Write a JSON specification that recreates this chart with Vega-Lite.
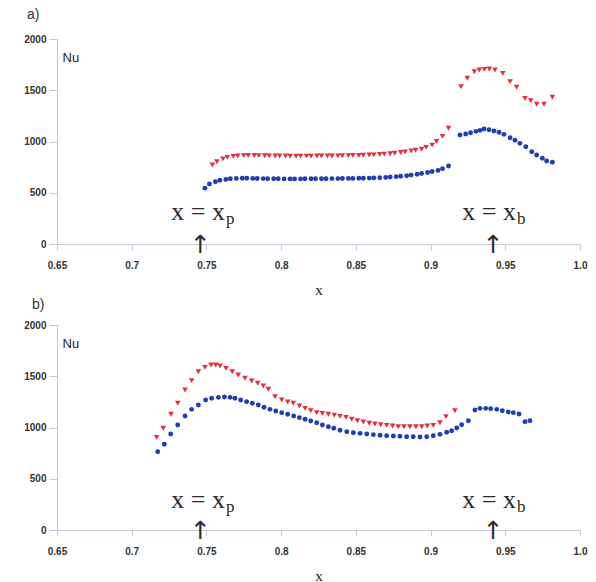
{
  "$schema": "https://vega.github.io/schema/vega-lite/v6.json",
  "background": "white",
  "padding": {"left": 23, "top": 8, "right": 6, "bottom": 2},
  "spacing": 1,
  "config": {
    "view": {"stroke": null},
    "axis": {
      "grid": false,
      "domainColor": "#c5c9de",
      "tickColor": "#c5c9de",
      "labelColor": "#333333",
      "labelFont": "Liberation Sans",
      "labelFontSize": 10,
      "labelFontWeight": "bold",
      "titleColor": "#222222"
    },
    "title": {"font": "Liberation Sans", "fontSize": 14, "fontWeight": "normal", "color": "#333333", "anchor": "start", "frame": "group"}
  },
  "datasets": {
    "pts": [
      {"p":"a","s":"b","x":0.749,"y":545},{"p":"a","s":"b","x":0.752,"y":585},{"p":"a","s":"b","x":0.756,"y":608},{"p":"a","s":"b","x":0.759,"y":622},{"p":"a","s":"b","x":0.763,"y":630},{"p":"a","s":"b","x":0.766,"y":636},{"p":"a","s":"b","x":0.770,"y":640},{"p":"a","s":"b","x":0.774,"y":641},{"p":"a","s":"b","x":0.777,"y":641},{"p":"a","s":"b","x":0.781,"y":640},{"p":"a","s":"b","x":0.784,"y":639},{"p":"a","s":"b","x":0.788,"y":638},{"p":"a","s":"b","x":0.791,"y":637},{"p":"a","s":"b","x":0.795,"y":636},{"p":"a","s":"b","x":0.798,"y":636},{"p":"a","s":"b","x":0.802,"y":635},{"p":"a","s":"b","x":0.806,"y":635},{"p":"a","s":"b","x":0.809,"y":635},{"p":"a","s":"b","x":0.813,"y":635},{"p":"a","s":"b","x":0.816,"y":636},{"p":"a","s":"b","x":0.820,"y":636},{"p":"a","s":"b","x":0.823,"y":636},{"p":"a","s":"b","x":0.827,"y":637},{"p":"a","s":"b","x":0.830,"y":637},{"p":"a","s":"b","x":0.834,"y":638},{"p":"a","s":"b","x":0.838,"y":638},{"p":"a","s":"b","x":0.841,"y":639},{"p":"a","s":"b","x":0.845,"y":640},{"p":"a","s":"b","x":0.848,"y":640},{"p":"a","s":"b","x":0.852,"y":641},{"p":"a","s":"b","x":0.855,"y":642},{"p":"a","s":"b","x":0.859,"y":643},{"p":"a","s":"b","x":0.862,"y":645},{"p":"a","s":"b","x":0.866,"y":647},{"p":"a","s":"b","x":0.870,"y":650},{"p":"a","s":"b","x":0.873,"y":653},{"p":"a","s":"b","x":0.877,"y":657},{"p":"a","s":"b","x":0.880,"y":661},{"p":"a","s":"b","x":0.884,"y":666},{"p":"a","s":"b","x":0.887,"y":672},{"p":"a","s":"b","x":0.891,"y":680},{"p":"a","s":"b","x":0.894,"y":688},{"p":"a","s":"b","x":0.898,"y":697},{"p":"a","s":"b","x":0.901,"y":707},{"p":"a","s":"b","x":0.905,"y":718},{"p":"a","s":"b","x":0.908,"y":735},{"p":"a","s":"b","x":0.912,"y":761},
      {"p":"a","s":"b","x":0.9197,"y":1063},{"p":"a","s":"b","x":0.9235,"y":1073},{"p":"a","s":"b","x":0.9268,"y":1086},{"p":"a","s":"b","x":0.9304,"y":1099},{"p":"a","s":"b","x":0.9331,"y":1109},{"p":"a","s":"b","x":0.9358,"y":1122},{"p":"a","s":"b","x":0.9391,"y":1115},{"p":"a","s":"b","x":0.9424,"y":1102},{"p":"a","s":"b","x":0.9458,"y":1090},{"p":"a","s":"b","x":0.9491,"y":1070},{"p":"a","s":"b","x":0.9532,"y":1037},{"p":"a","s":"b","x":0.9565,"y":1012},{"p":"a","s":"b","x":0.9598,"y":982},{"p":"a","s":"b","x":0.9637,"y":949},{"p":"a","s":"b","x":0.9677,"y":900},{"p":"a","s":"b","x":0.9710,"y":868},{"p":"a","s":"b","x":0.9748,"y":836},{"p":"a","s":"b","x":0.9777,"y":810},{"p":"a","s":"b","x":0.9815,"y":797},
      {"p":"a","s":"r","x":0.754,"y":771},{"p":"a","s":"r","x":0.757,"y":803},{"p":"a","s":"r","x":0.761,"y":830},{"p":"a","s":"r","x":0.764,"y":845},{"p":"a","s":"r","x":0.768,"y":855},{"p":"a","s":"r","x":0.771,"y":860},{"p":"a","s":"r","x":0.775,"y":862},{"p":"a","s":"r","x":0.778,"y":863},{"p":"a","s":"r","x":0.782,"y":863},{"p":"a","s":"r","x":0.785,"y":862},{"p":"a","s":"r","x":0.789,"y":861},{"p":"a","s":"r","x":0.792,"y":860},{"p":"a","s":"r","x":0.796,"y":859},{"p":"a","s":"r","x":0.799,"y":858},{"p":"a","s":"r","x":0.803,"y":858},{"p":"a","s":"r","x":0.806,"y":857},{"p":"a","s":"r","x":0.810,"y":857},{"p":"a","s":"r","x":0.813,"y":857},{"p":"a","s":"r","x":0.817,"y":857},{"p":"a","s":"r","x":0.820,"y":857},{"p":"a","s":"r","x":0.824,"y":858},{"p":"a","s":"r","x":0.827,"y":858},{"p":"a","s":"r","x":0.831,"y":859},{"p":"a","s":"r","x":0.834,"y":859},{"p":"a","s":"r","x":0.838,"y":860},{"p":"a","s":"r","x":0.841,"y":861},{"p":"a","s":"r","x":0.845,"y":862},{"p":"a","s":"r","x":0.848,"y":863},{"p":"a","s":"r","x":0.852,"y":864},{"p":"a","s":"r","x":0.855,"y":866},{"p":"a","s":"r","x":0.859,"y":868},{"p":"a","s":"r","x":0.862,"y":870},{"p":"a","s":"r","x":0.866,"y":873},{"p":"a","s":"r","x":0.869,"y":877},{"p":"a","s":"r","x":0.873,"y":881},{"p":"a","s":"r","x":0.876,"y":886},{"p":"a","s":"r","x":0.880,"y":892},{"p":"a","s":"r","x":0.883,"y":899},{"p":"a","s":"r","x":0.887,"y":907},{"p":"a","s":"r","x":0.890,"y":915},{"p":"a","s":"r","x":0.894,"y":925},{"p":"a","s":"r","x":0.897,"y":943},{"p":"a","s":"r","x":0.901,"y":965},{"p":"a","s":"r","x":0.904,"y":1000},{"p":"a","s":"r","x":0.908,"y":1050},{"p":"a","s":"r","x":0.912,"y":1129},
      {"p":"a","s":"r","x":0.9204,"y":1535},{"p":"a","s":"r","x":0.9246,"y":1617},{"p":"a","s":"r","x":0.9293,"y":1681},{"p":"a","s":"r","x":0.9326,"y":1698},{"p":"a","s":"r","x":0.9360,"y":1704},{"p":"a","s":"r","x":0.9393,"y":1707},{"p":"a","s":"r","x":0.9431,"y":1698},{"p":"a","s":"r","x":0.9483,"y":1665},{"p":"a","s":"r","x":0.9532,"y":1584},{"p":"a","s":"r","x":0.9576,"y":1529},{"p":"a","s":"r","x":0.9632,"y":1421},{"p":"a","s":"r","x":0.9670,"y":1398},{"p":"a","s":"r","x":0.9710,"y":1363},{"p":"a","s":"r","x":0.9759,"y":1363},{"p":"a","s":"r","x":0.9815,"y":1431},
      {"p":"b","s":"b","x":0.7174,"y":764},{"p":"b","s":"b","x":0.7218,"y":836},{"p":"b","s":"b","x":0.7261,"y":937},{"p":"b","s":"b","x":0.7308,"y":1024},{"p":"b","s":"b","x":0.7357,"y":1112},{"p":"b","s":"b","x":0.7401,"y":1177},{"p":"b","s":"b","x":0.7446,"y":1220},{"p":"b","s":"b","x":0.7495,"y":1268},{"p":"b","s":"b","x":0.7535,"y":1285},{"p":"b","s":"b","x":0.7580,"y":1294},{"p":"b","s":"b","x":0.7620,"y":1298},{"p":"b","s":"b","x":0.7658,"y":1294},{"p":"b","s":"b","x":0.7691,"y":1285},{"p":"b","s":"b","x":0.7729,"y":1268},{"p":"b","s":"b","x":0.7769,"y":1252},{"p":"b","s":"b","x":0.7807,"y":1236},{"p":"b","s":"b","x":0.7847,"y":1220},{"p":"b","s":"b","x":0.7885,"y":1197},{"p":"b","s":"b","x":0.7925,"y":1177},{"p":"b","s":"b","x":0.7964,"y":1161},{"p":"b","s":"b","x":0.8004,"y":1145},{"p":"b","s":"b","x":0.8044,"y":1129},{"p":"b","s":"b","x":0.8084,"y":1112},{"p":"b","s":"b","x":0.8122,"y":1096},{"p":"b","s":"b","x":0.8160,"y":1080},{"p":"b","s":"b","x":0.8198,"y":1063},{"p":"b","s":"b","x":0.8238,"y":1047},{"p":"b","s":"b","x":0.8276,"y":1024},{"p":"b","s":"b","x":0.8316,"y":1008},{"p":"b","s":"b","x":0.8352,"y":992},{"p":"b","s":"b","x":0.8394,"y":973},
      {"p":"b","s":"b","x":0.8439,"y":959},{"p":"b","s":"b","x":0.8483,"y":949},{"p":"b","s":"b","x":0.8528,"y":943},{"p":"b","s":"b","x":0.8573,"y":937},{"p":"b","s":"b","x":0.8617,"y":930},{"p":"b","s":"b","x":0.8662,"y":924},{"p":"b","s":"b","x":0.8706,"y":920},{"p":"b","s":"b","x":0.8751,"y":917},{"p":"b","s":"b","x":0.8795,"y":914},{"p":"b","s":"b","x":0.8840,"y":910},{"p":"b","s":"b","x":0.8884,"y":910},{"p":"b","s":"b","x":0.8929,"y":907},{"p":"b","s":"b","x":0.8974,"y":910},{"p":"b","s":"b","x":0.9018,"y":920},{"p":"b","s":"b","x":0.9063,"y":933},{"p":"b","s":"b","x":0.9108,"y":953},{"p":"b","s":"b","x":0.9141,"y":969},{"p":"b","s":"b","x":0.9175,"y":995},{"p":"b","s":"b","x":0.9208,"y":1027},{"p":"b","s":"b","x":0.9253,"y":1066},{"p":"b","s":"b","x":0.9297,"y":1171},{"p":"b","s":"b","x":0.9331,"y":1187},{"p":"b","s":"b","x":0.9369,"y":1187},{"p":"b","s":"b","x":0.9402,"y":1184},{"p":"b","s":"b","x":0.9443,"y":1177},{"p":"b","s":"b","x":0.9480,"y":1164},{"p":"b","s":"b","x":0.9520,"y":1151},{"p":"b","s":"b","x":0.9554,"y":1145},{"p":"b","s":"b","x":0.9592,"y":1132},{"p":"b","s":"b","x":0.9632,"y":1057},{"p":"b","s":"b","x":0.9665,"y":1066},
      {"p":"b","s":"r","x":0.7167,"y":904},{"p":"b","s":"r","x":0.7211,"y":992},{"p":"b","s":"r","x":0.7263,"y":1129},{"p":"b","s":"r","x":0.7308,"y":1236},{"p":"b","s":"r","x":0.7357,"y":1366},{"p":"b","s":"r","x":0.7401,"y":1457},{"p":"b","s":"r","x":0.7446,"y":1544},{"p":"b","s":"r","x":0.7490,"y":1587},{"p":"b","s":"r","x":0.7531,"y":1610},{"p":"b","s":"r","x":0.7562,"y":1610},{"p":"b","s":"r","x":0.7591,"y":1600},{"p":"b","s":"r","x":0.7631,"y":1577},{"p":"b","s":"r","x":0.7673,"y":1544},{"p":"b","s":"r","x":0.7713,"y":1512},{"p":"b","s":"r","x":0.7758,"y":1480},{"p":"b","s":"r","x":0.7803,"y":1454},{"p":"b","s":"r","x":0.7843,"y":1431},{"p":"b","s":"r","x":0.7881,"y":1405},{"p":"b","s":"r","x":0.7914,"y":1373},{"p":"b","s":"r","x":0.7959,"y":1300},{"p":"b","s":"r","x":0.8004,"y":1268},{"p":"b","s":"r","x":0.8044,"y":1249},{"p":"b","s":"r","x":0.8081,"y":1236},{"p":"b","s":"r","x":0.8122,"y":1210},{"p":"b","s":"r","x":0.8160,"y":1187},{"p":"b","s":"r","x":0.8198,"y":1164},{"p":"b","s":"r","x":0.8238,"y":1145},{"p":"b","s":"r","x":0.8276,"y":1138},{"p":"b","s":"r","x":0.8316,"y":1129},{"p":"b","s":"r","x":0.8356,"y":1119},{"p":"b","s":"r","x":0.8394,"y":1109},
      {"p":"b","s":"r","x":0.8434,"y":1099},{"p":"b","s":"r","x":0.8472,"y":1080},{"p":"b","s":"r","x":0.8510,"y":1066},{"p":"b","s":"r","x":0.8550,"y":1054},{"p":"b","s":"r","x":0.8590,"y":1041},{"p":"b","s":"r","x":0.8628,"y":1034},{"p":"b","s":"r","x":0.8666,"y":1027},{"p":"b","s":"r","x":0.8706,"y":1021},{"p":"b","s":"r","x":0.8746,"y":1015},{"p":"b","s":"r","x":0.8784,"y":1008},{"p":"b","s":"r","x":0.8822,"y":1008},{"p":"b","s":"r","x":0.8862,"y":1008},{"p":"b","s":"r","x":0.8902,"y":1008},{"p":"b","s":"r","x":0.8941,"y":1008},{"p":"b","s":"r","x":0.8978,"y":1015},{"p":"b","s":"r","x":0.9018,"y":1021},{"p":"b","s":"r","x":0.9063,"y":1047},{"p":"b","s":"r","x":0.9103,"y":1106},{"p":"b","s":"r","x":0.9163,"y":1164}
    ],
    "ann": [
      {"p":"a","tx":0.7624,"ty":234,"label":"x = x","sub":"p","ax":0.746,"ay":-10},
      {"p":"a","tx":0.9572,"ty":234,"label":"x = x","sub":"b","ax":0.942,"ay":-10},
      {"p":"b","tx":0.7624,"ty":215,"label":"x = x","sub":"p","ax":0.746,"ay":-10},
      {"p":"b","tx":0.9572,"ty":215,"label":"x = x","sub":"b","ax":0.942,"ay":-10}
    ]
  },
  "vconcat": [
    {
      "width": 523, "height": 205,
      "title": {"text": "a)", "dx": -30, "offset": 12},
      "layer": [
        {
          "data": {"name": "pts"},
          "transform": [{"filter": "datum.p == 'a'"}],
          "mark": {"type": "point", "filled": true, "opacity": 1},
          "encoding": {
            "x": {"field": "x", "type": "quantitative", "scale": {"domain": [0.65, 1.0], "nice": false, "zero": false},
                  "axis": {"values": [0.65,0.7,0.75,0.8,0.85,0.9,0.95,1.0], "format": ".2~f", "labelExpr": "datum.value == 1 ? '1.0' : datum.label", "labelFlush": false, "tickSize": 6, "labelPadding": 10, "title": "x", "titleFont": "Liberation Serif", "titleFontSize": 15, "titleFontWeight": "normal", "titlePadding": 12}},
            "y": {"field": "y", "type": "quantitative", "scale": {"domain": [0, 2000], "nice": false},
                  "axis": {"values": [0,500,1000,1500,2000], "format": "d", "tickSize": 8, "labelPadding": 3, "title": "Nu", "titleAngle": 0, "titleAlign": "left", "titleBaseline": "middle", "titleX": 5, "titleY": 18, "titleFont": "Liberation Sans", "titleFontSize": 13, "titleFontWeight": "normal"}},
            "color": {"field": "s", "type": "nominal", "scale": {"domain": ["b", "r"], "range": ["#1f3fb0", "#e3303c"]}, "legend": null},
            "shape": {"field": "s", "type": "nominal", "scale": {"domain": ["b", "r"], "range": ["circle", "triangle-down"]}, "legend": null},
            "size": {"field": "s", "type": "nominal", "scale": {"domain": ["b", "r"], "range": [24, 32]}, "legend": null}
          }
        },
        {
          "data": {"name": "ann"},
          "transform": [{"filter": "datum.p == 'a'"}],
          "mark": {"type": "text", "align": "right", "baseline": "alphabetic", "font": "Liberation Serif", "fontSize": 26, "color": "#2a2a2a"},
          "encoding": {"x": {"field": "tx", "type": "quantitative"}, "y": {"field": "ty", "type": "quantitative"}, "text": {"field": "label"}}
        },
        {
          "data": {"name": "ann"},
          "transform": [{"filter": "datum.p == 'a'"}],
          "mark": {"type": "text", "align": "left", "baseline": "alphabetic", "font": "Liberation Serif", "fontSize": 17, "dx": 1, "dy": 4, "color": "#2a2a2a"},
          "encoding": {"x": {"field": "tx", "type": "quantitative"}, "y": {"field": "ty", "type": "quantitative"}, "text": {"field": "sub"}}
        },
        {
          "data": {"name": "ann"},
          "transform": [{"filter": "datum.p == 'a'"}],
          "mark": {"type": "text", "align": "center", "baseline": "middle", "font": "DejaVu Sans", "fontSize": 25, "text": "↑", "color": "#2a2a2a"},
          "encoding": {"x": {"field": "ax", "type": "quantitative"}, "y": {"field": "ay", "type": "quantitative"}}
        }
      ]
    },
    {
      "width": 523, "height": 205,
      "title": {"text": "b)", "dx": -25, "offset": 8},
      "layer": [
        {
          "data": {"name": "pts"},
          "transform": [{"filter": "datum.p == 'b'"}],
          "mark": {"type": "point", "filled": true, "opacity": 1},
          "encoding": {
            "x": {"field": "x", "type": "quantitative", "scale": {"domain": [0.65, 1.0], "nice": false, "zero": false},
                  "axis": {"values": [0.65,0.7,0.75,0.8,0.85,0.9,0.95,1.0], "format": ".2~f", "labelExpr": "datum.value == 1 ? '1.0' : datum.label", "labelFlush": false, "tickSize": 6, "labelPadding": 10, "title": "x", "titleFont": "Liberation Serif", "titleFontSize": 15, "titleFontWeight": "normal", "titlePadding": 12}},
            "y": {"field": "y", "type": "quantitative", "scale": {"domain": [0, 2000], "nice": false},
                  "axis": {"values": [0,500,1000,1500,2000], "format": "d", "tickSize": 8, "labelPadding": 3, "title": "Nu", "titleAngle": 0, "titleAlign": "left", "titleBaseline": "middle", "titleX": 5, "titleY": 18, "titleFont": "Liberation Sans", "titleFontSize": 13, "titleFontWeight": "normal"}},
            "color": {"field": "s", "type": "nominal", "scale": {"domain": ["b", "r"], "range": ["#1f3fb0", "#e3303c"]}, "legend": null},
            "shape": {"field": "s", "type": "nominal", "scale": {"domain": ["b", "r"], "range": ["circle", "triangle-down"]}, "legend": null},
            "size": {"field": "s", "type": "nominal", "scale": {"domain": ["b", "r"], "range": [24, 32]}, "legend": null}
          }
        },
        {
          "data": {"name": "ann"},
          "transform": [{"filter": "datum.p == 'b'"}],
          "mark": {"type": "text", "align": "right", "baseline": "alphabetic", "font": "Liberation Serif", "fontSize": 26, "color": "#2a2a2a"},
          "encoding": {"x": {"field": "tx", "type": "quantitative"}, "y": {"field": "ty", "type": "quantitative"}, "text": {"field": "label"}}
        },
        {
          "data": {"name": "ann"},
          "transform": [{"filter": "datum.p == 'b'"}],
          "mark": {"type": "text", "align": "left", "baseline": "alphabetic", "font": "Liberation Serif", "fontSize": 17, "dx": 1, "dy": 4, "color": "#2a2a2a"},
          "encoding": {"x": {"field": "tx", "type": "quantitative"}, "y": {"field": "ty", "type": "quantitative"}, "text": {"field": "sub"}}
        },
        {
          "data": {"name": "ann"},
          "transform": [{"filter": "datum.p == 'b'"}],
          "mark": {"type": "text", "align": "center", "baseline": "middle", "font": "DejaVu Sans", "fontSize": 25, "text": "↑", "color": "#2a2a2a"},
          "encoding": {"x": {"field": "ax", "type": "quantitative"}, "y": {"field": "ay", "type": "quantitative"}}
        }
      ]
    }
  ]
}
